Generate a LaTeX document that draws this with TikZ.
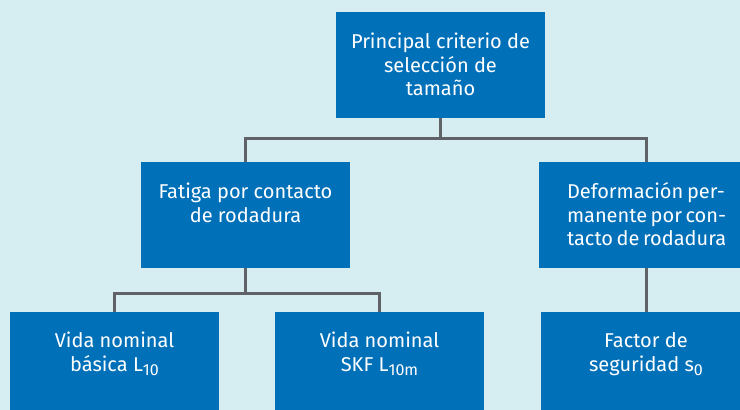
\documentclass[tikz,border=0pt]{standalone}
\usepackage{fontspec}
\setmainfont{Fira Sans}
\definecolor{skfblue}{RGB}{0,112,185}
\definecolor{bgblue}{RGB}{214,237,242}
\definecolor{linegray}{RGB}{95,99,104}
\newcommand\lowidx[1]{\raisebox{-4.5pt}{\fontsize{16}{16}\selectfont #1}}
\newcommand\jline[1]{\makebox[158pt][s]{#1}}
\newcommand\toptext[1]{\parbox[t]{205pt}{\centering #1}}
\begin{document}
\begin{tikzpicture}[x=1pt,y=-1pt,
  box/.style={fill=skfblue, draw=none, inner sep=0pt, minimum width=209pt, minimum height=106pt},
  txt/.style={text=white, font=\fontsize{20}{23.5}\selectfont, inner sep=0pt, anchor=base},
  conn/.style={draw=linegray, line width=3pt}]
\fill[bgblue] (0,0) rectangle (740,410);
\useasboundingbox (0,0) rectangle (740,410);
\clip (0,0) rectangle (740,410);
% boxes
\node[box] (top) at (440.5,65) {};
\node[box] (fat) at (245.5,215) {};
\node[box, minimum width=214pt] (def) at (646,215) {};
\node[box] (b1) at (114.5,365) {};
\node[box] (b2) at (379.5,365) {};
\node[box, minimum width=210pt] (b3) at (646,365) {};
% texts
\node[txt] (topt) at ([yshift=-37pt]top.north) {\toptext{Principal criterio de\\selección de\\tamaño}};
\node[txt] (fatt) at ([yshift=-37pt]fat.north) {\toptext{Fatiga por contacto\\de rodadura}};
\node[txt] (deft) at ([yshift=-37pt]def.north) {\toptext{\jline{Deformación per-}\\\jline{manente por con-}\\\jline{tacto de rodadura}}};
\node[txt] (b1t) at ([yshift=-36pt]b1.north) {\toptext{Vida nominal\\básica L\lowidx{10}}};
\node[txt] (b2t) at ([yshift=-36pt]b2.north) {\toptext{Vida nominal\\SKF L\lowidx{10m}}};
\node[txt] (b3t) at ([yshift=-36pt]b3.north) {\toptext{Factor de\\seguridad s\lowidx{0}}};
% connectors
\draw[conn] (top.south) -- ++(0,20) -| (fat.north);
\draw[conn] (top.south) ++(0,20) -| (def.north);
\draw[conn] (fat.south) -- ++(0,25) -| (b1.north);
\draw[conn] (fat.south) ++(0,25) -| (b2.north);
\draw[conn] (def.south) -- (b3.north);
\end{tikzpicture}
\end{document}
